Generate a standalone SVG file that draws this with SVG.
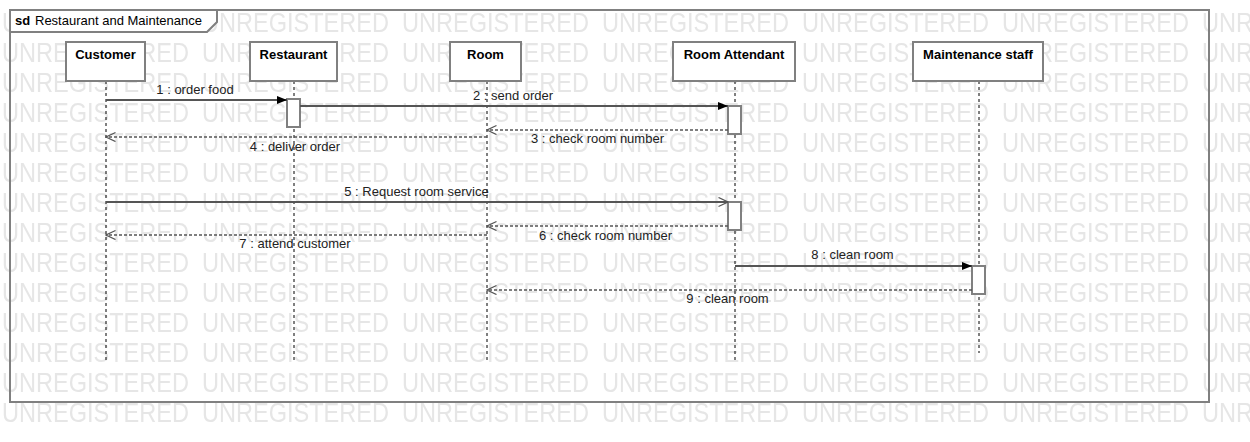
<svg xmlns="http://www.w3.org/2000/svg" width="1250" height="442" viewBox="0 0 1250 442">
<style>
.wm{font-family:"Liberation Sans",Arial,sans-serif;font-size:27px;fill:#e6e6e6}
.frame{fill:none;stroke:#808080;stroke-width:2}
.box{fill:#fff;stroke:#808080;stroke-width:2}
.act{fill:#fff;stroke:#808080;stroke-width:2}
.name{font-family:"Liberation Sans",Arial,sans-serif;font-size:13px;font-weight:bold;fill:#000;text-anchor:middle}
.lbl{font-family:"Liberation Sans",Arial,sans-serif;font-size:13px;fill:#222;text-anchor:middle}
.life{stroke:#000;stroke-width:1;stroke-dasharray:3,3;fill:none}
.sync{stroke:#555;stroke-width:2;fill:none}
.ret{stroke:#555;stroke-width:1.5;stroke-dasharray:3,2;fill:none}
</style>
<defs>
<pattern id="wmp" patternUnits="userSpaceOnUse" x="0" y="10" width="200" height="30">
<text class="wm" x="2" y="22" textLength="187" lengthAdjust="spacingAndGlyphs">UNREGISTERED</text>
</pattern>
<marker id="filled" markerUnits="userSpaceOnUse" markerWidth="11" markerHeight="9" refX="10" refY="4.5" orient="auto">
<path d="M0,0.5 L10,4.5 L0,8.5 z" fill="#000"/>
</marker>
<marker id="open" markerUnits="userSpaceOnUse" markerWidth="11" markerHeight="11" refX="10" refY="5" orient="auto">
<path d="M0.5,0.5 L10,5 L0.5,9.5" fill="none" stroke="#555" stroke-width="1.3"/>
</marker>
</defs>
<rect x="0" y="0" width="1250" height="442" fill="#fff"/>
<rect x="0" y="10" width="1250" height="414" fill="url(#wmp)"/>
<g id="frame">
<rect class="frame" x="10" y="10" width="1199" height="392"/>
<path d="M10,32 L207,32 L217,22 L217,10 L10,10 z" fill="#fff" stroke="#808080" stroke-width="2"/>
<text x="15" y="25" font-family="Liberation Sans, Arial, sans-serif" font-size="13" font-weight="bold" fill="#000">sd</text>
<text x="35" y="25" font-family="Liberation Sans, Arial, sans-serif" font-size="13" fill="#000">Restaurant and Maintenance</text>
</g>
<g id="customer">
<line class="life" x1="106" y1="81" x2="106" y2="361"/>
<rect class="box" x="66" y="42" width="79" height="39"/>
<text class="name" x="105.5" y="59">Customer</text>
</g>
<g id="restaurant">
<line class="life" x1="294" y1="81" x2="294" y2="361"/>
<rect class="box" x="250" y="42" width="87" height="39"/>
<text class="name" x="293.5" y="59">Restaurant</text>
<rect class="act" x="287" y="99" width="13" height="28"/>
</g>
<g id="room">
<line class="life" x1="487" y1="81" x2="487" y2="361"/>
<rect class="box" x="450" y="42" width="71" height="39"/>
<text class="name" x="485.5" y="59">Room</text>
</g>
<g id="room-attendant">
<line class="life" x1="735" y1="81" x2="735" y2="361"/>
<rect class="box" x="673" y="42" width="122" height="39"/>
<text class="name" x="734" y="59">Room Attendant</text>
<rect class="act" x="728" y="106" width="13" height="28"/>
<rect class="act" x="728" y="202" width="13" height="28"/>
</g>
<g id="maintenance-staff">
<line class="life" x1="979" y1="81" x2="979" y2="353"/>
<rect class="box" x="913" y="42" width="130" height="39"/>
<text class="name" x="978" y="59">Maintenance staff</text>
<rect class="act" x="972" y="266" width="13" height="28"/>
</g>
<g id="connectors">
<line class="sync" x1="106" y1="100" x2="287" y2="100" marker-end="url(#filled)"/>
<text class="lbl" x="195" y="94">1 : order food</text>
<line class="sync" x1="300" y1="106" x2="728" y2="106" marker-end="url(#filled)"/>
<text class="lbl" x="513" y="100">2 : send order</text>
<line class="ret" x1="728" y1="130" x2="487" y2="130" marker-end="url(#open)"/>
<text class="lbl" x="597.5" y="143">3 : check room number</text>
<line class="ret" x1="487" y1="137" x2="106" y2="137" marker-end="url(#open)"/>
<text class="lbl" x="295" y="151">4 : deliver order</text>
<line class="sync" x1="106" y1="202" x2="728" y2="202" marker-end="url(#open)"/>
<text class="lbl" x="416.5" y="196">5 : Request room service</text>
<line class="ret" x1="728" y1="226" x2="487" y2="226" marker-end="url(#open)"/>
<text class="lbl" x="605.5" y="240">6 : check room number</text>
<line class="ret" x1="487" y1="235" x2="106" y2="235" marker-end="url(#open)"/>
<text class="lbl" x="295" y="248">7 : attend customer</text>
<line class="sync" x1="735" y1="266" x2="972" y2="266" marker-end="url(#filled)"/>
<text class="lbl" x="852.5" y="259">8 : clean room</text>
<line class="ret" x1="972" y1="290" x2="487" y2="290" marker-end="url(#open)"/>
<text class="lbl" x="727.5" y="303">9 : clean room</text>
</g>
</svg>
